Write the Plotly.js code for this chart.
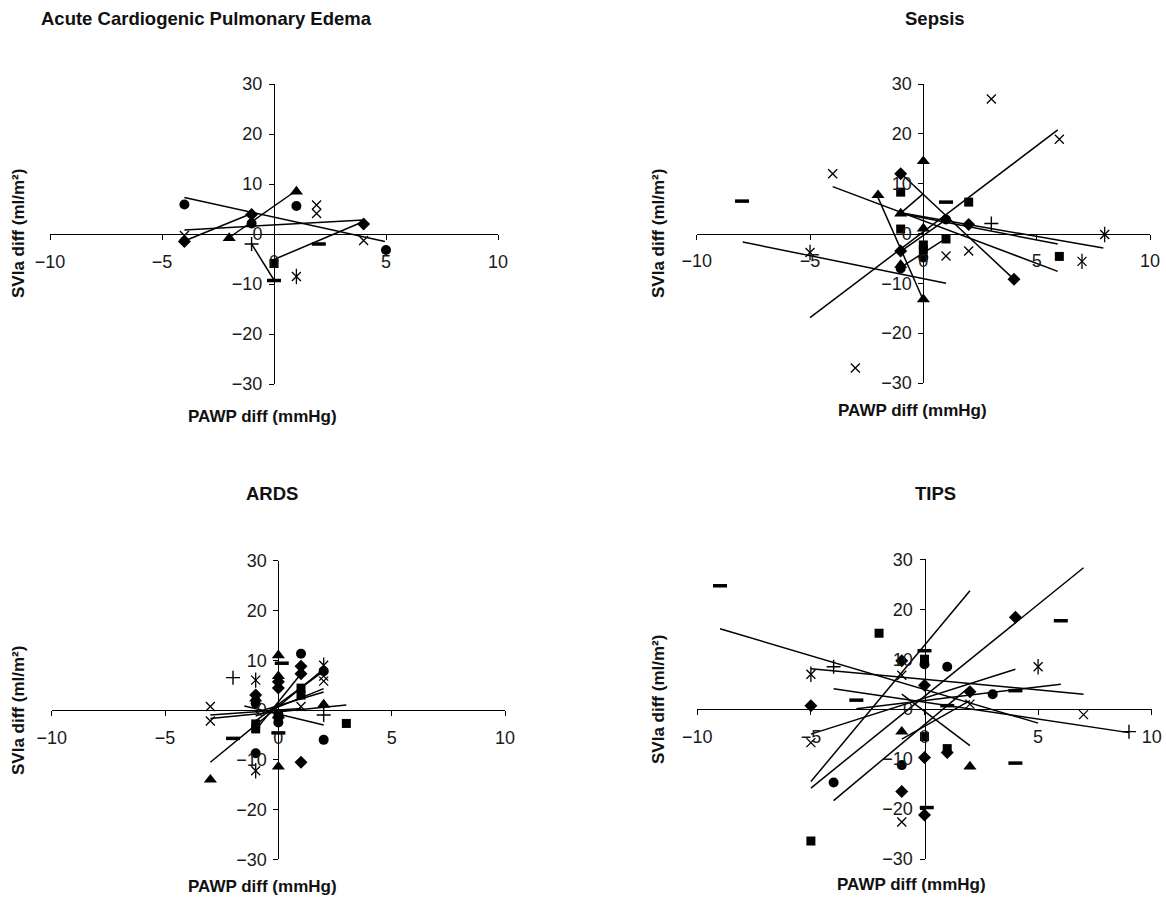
<!DOCTYPE html>
<html>
<head>
<meta charset="utf-8">
<script src="https://cdn.plot.ly/plotly-3.0.1.min.js"></script>
<style>
  html, body { margin: 0; padding: 0; background: #fff; }
  #chart { width: 1166px; height: 901px; }
</style>
</head>
<body>
<div id="chart"></div>
<script>
// ---------------- DATA ----------------
const panelTitles = ['Acute Cardiogenic Pulmonary Edema', 'Sepsis', 'ARDS', 'TIPS'];
const xAxisTitle = 'PAWP diff (mmHg)';
const yAxisTitle = 'SVIa diff (ml/m²)';
const xTickVals = [-10, -5, 0, 5, 10];
const yTickVals = [-30, -20, -10, 0, 10, 20, 30];

// Acute Cardiogenic Pulmonary Edema : [PAWP diff, SVIa diff]
const acpeDiamonds  = [[-4, -1.5], [-1, 3.9], [4, 2]];
const acpeSquares   = [[0, -5.9]];
const acpeTriangles = [[-2, -0.8], [1, 8.5]];
const acpeCrosses   = [[-4, -0.3], [1.9, 5.8], [1.9, 4.1], [4, -1.3]];
const acpeStars     = [[1, -8.5]];
const acpeCircles   = [[-4, 5.9], [1, 5.6], [5, -3.2], [-1, 2.1]];
const acpePluses    = [[-1, -2]];
const acpeDashes    = [[0, -9.3], [2, -2]];
const acpeLines     = [[-4, 7.3, 4.95, -1.5], [-4, 0.8, 4, 2.8], [-4, -1.4, -1, 4.1],
                       [-1.9, -0.4, 1, 8.7], [0, -5.1, 4, 2.5], [-1, -2, 0, -9.2]];

// Sepsis
const sepsDiamonds  = [[-1, 12], [2, 1.8], [4, -9.2], [-1, -3.5]];
const sepsSquares   = [[-1, 8.3], [-1, 0.9], [2, 6.3], [1, -1.1], [6, -4.6], [0, -2.3], [0, -3.3]];
const sepsTriangles = [[-2, 7.7], [0, 14.5], [-1, 4], [0, 1], [0, -13.2], [-1, -6.3]];
const sepsCrosses   = [[3, 27], [6, 18.9], [-4, 12], [1, -4.5], [2, -3.5], [-3, -27]];
const sepsStars     = [[-5, -3.8], [8, -0.2], [7, -5.6]];
const sepsCircles   = [[1, 2.8], [0, -4.8], [-1, -7]];
const sepsPluses    = [[3, 2]];
const sepsDashes    = [[-8, 6.5], [1, 6.3]];
const sepsLines     = [[-5, -16.9, 5.93, 20.8], [-7.97, -1.7, 1, -10], [-4, 9.4, 5.93, -7.6],
                       [-1, 12.1, 4, -9.2], [-2, 7.2, 0, -13.4], [-1, 4.15, 7.94, -2.9],
                       [-1, 4, 5.93, -2.1], [-1, 4.1, 0, 8], [-1, -3.6, 1, 2.8], [-1, -6.8, 1, -1]];

// ARDS
const ardsDiamonds  = [[1, 8.8], [1, 7.3], [0, 5.7], [0, 4.4], [-1, 3], [1, -10.5], [0, -1.5]];
const ardsSquares   = [[1, 4.4], [1, 3], [-1, -3.8], [3, -2.7], [-1, -2.8]];
const ardsTriangles = [[0, 11], [0, 6.8], [-1, 2.3], [2, 1.1], [0, -11.4], [-3, -14]];
const ardsCrosses   = [[-3, 0.7], [-3, -2.2], [1, 0.7], [2, 5.8], [2, 6.8]];
const ardsStars     = [[2, 9], [-1, 6], [-1, -12.2]];
const ardsCircles   = [[1, 11.3], [-1, 1.3], [0, -0.8], [0, -2.5], [2, -6], [-1, -8.7], [2, 7.8]];
const ardsPluses    = [[-2, 6.5], [2, -1]];
const ardsDashes    = [[0.15, 9.4], [-2, -5.7], [0, -4.6]];
const ardsLines     = [[-3, -10.5, 2, 8.2], [-3, -1.7, 3, 1], [-3, -1, 1, 0.3], [-1.5, 0.8, 2, -3],
                       [-1, -4, 1, 7.3], [-1, -2.2, 2, 7.8], [-1, -1.2, 2, 4.3], [-1, -0.5, 2, 3.6]];

// TIPS
const tipsDiamonds  = [[4, 18.4], [-1, 9.7], [0, 4.8], [2, 3.5], [-5, 0.7], [1, -8.7], [0, -9.7], [-1, -16.5], [0, -21.2]];
const tipsSquares   = [[-2, 15.2], [0, 10], [0, -5.5], [1, -7.9], [-5, -26.4]];
const tipsTriangles = [[-1, -4.5], [2, -11.5]];
const tipsCrosses   = [[-1, 6.8], [2, 1], [7, -1.1], [-5, -6.7], [-1, -22.6]];
const tipsStars     = [[-5, 7], [5, 8.5]];
const tipsCircles   = [[0, 9], [1, 8.5], [3, 3], [-1, -11.2], [-4, -14.7]];
const tipsPluses    = [[-4, 8.5], [9, -4.5]];
const tipsDashes    = [[-9, 24.7], [6, 17.7], [0, 11.7], [4, 3.7], [-3, 1.8], [1, 0.7], [4, -10.8], [0.1, -19.7]];
const tipsLines     = [[-9, 16.1, 5, -2.8], [-5, 8.1, 7, 3], [-4, 4.1, 9, -4.7], [-5, -5, 4, 8],
                       [-3, 0.1, 6, 5], [-5, -14.5, 2, 23.7], [-5, -15.8, 7, 28.3], [-4, -18.3, 2, 4.5],
                       [-1, 3, 2, -7.3], [-1, -6, 2, 1.7]];

// ---------------- BUILD ----------------
const panelSeries = [
  {diamond: acpeDiamonds, square: acpeSquares, triangle: acpeTriangles, cross: acpeCrosses,
   star: acpeStars, circle: acpeCircles, plus: acpePluses, dash: acpeDashes, lines: acpeLines},
  {diamond: sepsDiamonds, square: sepsSquares, triangle: sepsTriangles, cross: sepsCrosses,
   star: sepsStars, circle: sepsCircles, plus: sepsPluses, dash: sepsDashes, lines: sepsLines},
  {diamond: ardsDiamonds, square: ardsSquares, triangle: ardsTriangles, cross: ardsCrosses,
   star: ardsStars, circle: ardsCircles, plus: ardsPluses, dash: ardsDashes, lines: ardsLines},
  {diamond: tipsDiamonds, square: tipsSquares, triangle: tipsTriangles, cross: tipsCrosses,
   star: tipsStars, circle: tipsCircles, plus: tipsPluses, dash: tipsDashes, lines: tipsLines}
];

const W = 1166, H = 901;
// pixel geometry of each panel (layout only)
const geom = [
  {x: [50, 498],     y: [84, 384],    title: [206, 18],  xlab: [262, 416], ylab: [18, 234]},
  {x: [696.7, 1150], y: [84, 383],    title: [935, 18],  xlab: [912, 411], ylab: [658, 234]},
  {x: [51.7, 505],   y: [560.7, 859.3], title: [272, 493], xlab: [262, 886], ylab: [18, 711]},
  {x: [697.3, 1151.7], y: [559.3, 859], title: [935, 493], xlab: [911, 884], ylab: [658, 700]}
];

const BLACK = '#000';
const markerStyles = {
  diamond:  [{symbol: 'diamond', size: 10, color: BLACK}],
  square:   [{symbol: 'square', size: 9, color: BLACK}],
  triangle: [{symbol: 'triangle-up', size: 11.5, color: BLACK}],
  cross:    [{symbol: 'x-thin-open', size: 9, color: BLACK, line: {width: 1.3, color: BLACK}}],
  star:     [{symbol: 'x-thin-open', size: 9, color: BLACK, line: {width: 1.3, color: BLACK}},
             {symbol: 'line-ns-open', size: 11, color: BLACK, line: {width: 1.3, color: BLACK}}],
  circle:   [{symbol: 'circle', size: 10, color: BLACK}],
  plus:     [{symbol: 'cross-thin-open', size: 10, color: BLACK, line: {width: 1.4, color: BLACK}}],
  dash:     [{symbol: 'line-ew-open', size: 10, color: BLACK, line: {width: 3.5, color: BLACK}}]
};

const traces = [];
const layout = {
  width: W, height: H,
  margin: {l: 0, r: 0, t: 0, b: 0},
  paper_bgcolor: '#fff', plot_bgcolor: 'rgba(0,0,0,0)',
  showlegend: false,
  annotations: []
};

const tickFont = {family: 'Liberation Sans, Arial, sans-serif', size: 18, color: '#1a1a1a'};
const boldFont = (s) => ({family: 'Liberation Sans, Arial, sans-serif', size: s, color: '#111', weight: 700});

panelSeries.forEach((ser, i) => {
  const g = geom[i];
  const sfx = i === 0 ? '' : String(i + 1);
  const xa = 'x' + sfx, ya = 'y' + sfx;
  const xDom = [g.x[0] / W, g.x[1] / W];
  const yDom = [1 - g.y[1] / H, 1 - g.y[0] / H];

  layout['xaxis' + sfx] = {
    domain: xDom, range: [-10, 10], tickvals: xTickVals,
    anchor: 'free', position: (yDom[0] + yDom[1]) / 2, side: 'bottom',
    showline: true, linecolor: BLACK, linewidth: 1,
    ticks: 'outside', ticklen: 5, tickwidth: 1, tickcolor: BLACK,
    ticklabelstandoff: 6,
    showgrid: false, zeroline: false, tickfont: tickFont, fixedrange: true
  };
  layout['yaxis' + sfx] = {
    domain: yDom, range: [-30, 30], tickvals: yTickVals,
    anchor: 'free', position: (xDom[0] + xDom[1]) / 2, side: 'left',
    showline: true, linecolor: BLACK, linewidth: 1,
    ticks: 'outside', ticklen: 5, tickwidth: 1, tickcolor: BLACK,
    ticklabelstandoff: 3,
    showgrid: false, zeroline: false, tickfont: tickFont, fixedrange: true
  };

  // regression lines
  const lx = [], ly = [];
  ser.lines.forEach(l => { lx.push(l[0], l[2], null); ly.push(l[1], l[3], null); });
  traces.push({type: 'scatter', mode: 'lines', x: lx, y: ly, xaxis: xa, yaxis: ya,
               line: {color: BLACK, width: 1.5}, hoverinfo: 'skip', cliponaxis: false});

  // markers
  ['diamond', 'square', 'triangle', 'cross', 'star', 'circle', 'plus', 'dash'].forEach(k => {
    const pts = ser[k];
    markerStyles[k].forEach(ms => {
      traces.push({type: 'scatter', mode: 'markers',
                   x: pts.map(p => p[0]), y: pts.map(p => p[1]),
                   xaxis: xa, yaxis: ya, marker: ms, cliponaxis: false, hoverinfo: 'skip'});
    });
  });

  // titles
  layout.annotations.push({text: panelTitles[i], xref: 'paper', yref: 'paper',
    x: g.title[0] / W, y: 1 - g.title[1] / H, xanchor: 'center', yanchor: 'middle',
    showarrow: false, font: boldFont(18.5)});
  layout.annotations.push({text: xAxisTitle, xref: 'paper', yref: 'paper',
    x: g.xlab[0] / W, y: 1 - g.xlab[1] / H, xanchor: 'center', yanchor: 'middle',
    showarrow: false, font: boldFont(17)});
  layout.annotations.push({text: yAxisTitle, xref: 'paper', yref: 'paper', textangle: -90,
    x: g.ylab[0] / W, y: 1 - g.ylab[1] / H, xanchor: 'center', yanchor: 'middle',
    showarrow: false, font: boldFont(17)});
});

Plotly.newPlot('chart', traces, layout, {staticPlot: true, displayModeBar: false});
</script>
</body>
</html>
